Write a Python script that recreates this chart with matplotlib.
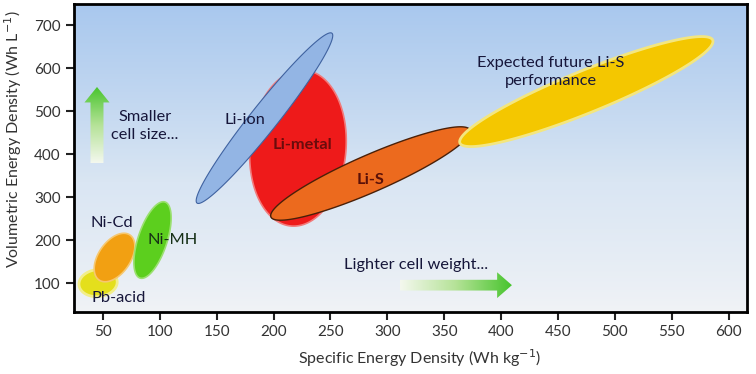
import matplotlib
matplotlib.use("Agg")
import matplotlib.pyplot as plt
import numpy as np
from matplotlib.colors import LinearSegmentedColormap
from matplotlib.patches import FancyArrow

plt.rcParams["font.family"] = ["Lato", "DejaVu Sans"]

# technology regions: low end and high end (Wh/kg, Wh/L)
TECHS = ["Pb-acid", "Ni-Cd", "Ni-MH", "Li-metal", "Li-ion", "Li-S", "Expected future Li-S"]
LOW_END = [(29, 95), (46.6, 107), (82.6, 111.6), (215.3, 232.6), (132.7, 286), (197.7, 253.5), (363.8, 425.6)]
HIGH_END = [(62.5, 104.7), (73.8, 211.6), (104.6, 288.4), (227.6, 595), (251.3, 681), (372.6, 456), (586, 665)]

# annotations
LABELS = ["Pb-acid", "Ni-Cd", "Ni-MH", "Li-metal", "Li-ion", "Li-S",
          "Expected future Li-S\nperformance", "Smaller\ncell size...", "Lighter cell weight..."]
LABEL_X = [64, 58, 111, 225, 175, 285, 444, 87, 325]
LABEL_Y = [65, 240, 200, 421, 479, 340, 591, 465, 142]

X_TICKS = [50, 100, 150, 200, 250, 300, 350, 400, 450, 500, 550, 600]
Y_TICKS = [100, 200, 300, 400, 500, 600, 700]

# style per region: minor width (px), face, edge, edge width, zorder
STYLE = {
    "Pb-acid": (27, "#e4df1c", "#f2ee8a", 2.0, 2),
    "Ni-Cd": (32, "#f2a012", "#f6c870", 1.2, 3),
    "Ni-MH": (29, "#5ccf1e", "#9be070", 1.2, 3),
    "Li-metal": (96, "#ee1a1a", "#f27a7a", 1.2, 3),
    "Li-ion": (27, "#93b5e4", "#3f62a0", 0.8, 4),
    "Li-S": (37, "#ec6a1e", "#4a2008", 1.0, 5),
    "Expected future Li-S": (42, "#f4c700", "#f3e680", 2.0, 6),
}
LABEL_COLORS = ["#16163a", "#16163a", "#163016", "#6a0c0c", "#16163a", "#5a1008",
                "#16163a", "#16163a", "#16163a"]
LABEL_WEIGHTS = ["normal"] * 3 + ["bold", "normal", "bold"] + ["normal"] * 3

fig = plt.figure(figsize=(7.56, 3.74), dpi=100)
ax = fig.add_axes([0.0979, 0.1658, 0.890, 0.8235])
ax.set_xlim(24.6, 616)
ax.set_ylim(32.6, 749)
ax.set_facecolor("none")

# background gradient
bg = LinearSegmentedColormap.from_list("bg", ["#f1f3f6", "#dae6f3", "#a9c8ee"])
ax.imshow(np.linspace(0, 1, 256).reshape(-1, 1) ** 0.8, cmap=bg, origin="lower",
          extent=[0, 1, 0, 1], transform=ax.transAxes, aspect="auto", zorder=0)


def ellipse_xy(p1, p2, width_px):
    d1 = ax.transData.transform(p1)
    d2 = ax.transData.transform(p2)
    c = (d1 + d2) / 2
    u = (d2 - d1) / 2
    n = np.array([-u[1], u[0]]) / np.hypot(*u) * width_px / 2
    t = np.linspace(0, 2 * np.pi, 240)
    pts = c + np.outer(np.cos(t), u) + np.outer(np.sin(t), n)
    return ax.transData.inverted().transform(pts)


for name, lo, hi in zip(TECHS, LOW_END, HIGH_END):
    w, fc, ec, lw, z = STYLE[name]
    xy = ellipse_xy(lo, hi, w)
    ax.fill(xy[:, 0], xy[:, 1], facecolor=fc, edgecolor=ec, linewidth=lw, zorder=z)

# gradient arrows
green = LinearSegmentedColormap.from_list("g", ["#f4f8ee", "#b4e296", "#46c42c"])
up = FancyArrow(44.8, 379, 0, 177, width=11.4, head_width=22, head_length=36,
                length_includes_head=True, facecolor="none", edgecolor="none", zorder=7)
ax.add_patch(up)
im = ax.imshow(np.linspace(0, 1, 128).reshape(-1, 1), cmap=green, origin="lower",
               extent=[30, 60, 379, 556], aspect="auto", zorder=7)
im.set_clip_path(up)

right = FancyArrow(311, 95, 98.5, 0, width=25, head_width=60, head_length=13,
                   length_includes_head=True, facecolor="none", edgecolor="none", zorder=7)
ax.add_patch(right)
im2 = ax.imshow(np.linspace(0, 1, 128).reshape(1, -1), cmap=green, origin="lower",
                extent=[311, 410, 60, 130], aspect="auto", zorder=7)
im2.set_clip_path(right)

ax.set_xlim(24.6, 616)
ax.set_ylim(32.6, 749)

for lab, x, y, c, fw in zip(LABELS, LABEL_X, LABEL_Y, LABEL_COLORS, LABEL_WEIGHTS):
    ax.text(x, y, lab, ha="center", va="center", fontsize=11.8, color=c,
            fontweight=fw, linespacing=1.3, zorder=10)

ax.set_xticks(X_TICKS)
ax.set_yticks(Y_TICKS)
ax.tick_params(length=6, width=1.5, labelsize=11, labelcolor="#333333", color="#222222")
for s in ax.spines.values():
    s.set_linewidth(2)
    s.set_zorder(11)

ax.set_xlabel("Specific Energy Density (Wh kg$^{-1}$)", fontsize=11.5, color="#333333")
ax.set_ylabel("Volumetric Energy Density (Wh L$^{-1}$)", fontsize=11.5, color="#333333")
ax.xaxis.set_label_coords(0.513, -0.115)
ax.yaxis.set_label_coords(-0.075, 0.56)

fig.savefig("out.png", dpi=100)
